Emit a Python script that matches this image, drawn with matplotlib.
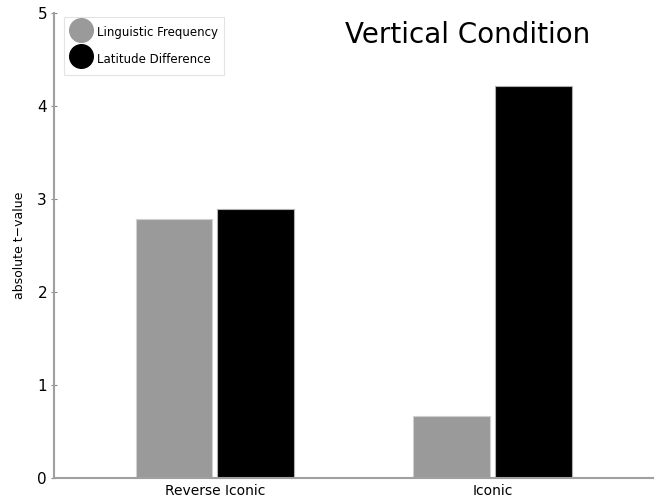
import numpy as np
import matplotlib.pyplot as plt
from matplotlib.lines import Line2D

# datos
categorias = ['Reverse Iconic', 'Iconic']
frecuencia = [2.79, 0.67]   # Linguistic Frequency
latitud = [2.89, 4.21]      # Latitude Difference

x = np.arange(len(categorias))
ancho = 0.277
desp = 0.147

fig = plt.figure(figsize=(6.6, 4.98), dpi=100)
ax = fig.add_axes([0.0818, 0.0402, 0.9072, 0.9337])

ax.bar(x - desp, frecuencia, ancho, color='#9a9a9a', edgecolor='#d0d0d0', linewidth=0.8)
ax.bar(x + desp, latitud, ancho, color='black', edgecolor='#b0b0b0', linewidth=0.8)

ax.set_xlim(-0.579, 1.576)
ax.set_ylim(0, 5)
ax.set_xticks(x)
ax.set_xticklabels(categorias, fontsize=10)
ax.set_yticks([0, 1, 2, 3, 4, 5])
ax.tick_params(axis='x', length=0, pad=4)
ax.tick_params(axis='y', direction='inout', length=4, width=0.8, colors='#888888',
               labelcolor='black', labelsize=11, pad=3)
ax.set_ylabel('absolute t\u2212value', fontsize=9, labelpad=8)

for lado in ['top', 'right']:
    ax.spines[lado].set_visible(False)
for lado in ['left', 'bottom']:
    ax.spines[lado].set_color('#a0a0a0')
    ax.spines[lado].set_linewidth(1.5)

fig.text(0.709, 0.93, 'Vertical Condition', fontsize=20, ha='center', va='center')

# leyenda con círculos
handles = [
    Line2D([], [], marker='o', linestyle='', markersize=17, color='#9a9a9a'),
    Line2D([], [], marker='o', linestyle='', markersize=17, color='black'),
]
leg = ax.legend(handles, ['Linguistic Frequency', 'Latitude Difference'],
                loc='upper left', bbox_to_anchor=(0.012, 0.997), fontsize=8.5,
                fancybox=False, handletextpad=0.35, borderpad=0.55,
                labelspacing=0.6, handlelength=1.9, handleheight=2.1,
                borderaxespad=0.2)
leg.get_frame().set_edgecolor('#dddddd')
leg.get_frame().set_linewidth(0.8)

fig.savefig('out.png', dpi=100)
